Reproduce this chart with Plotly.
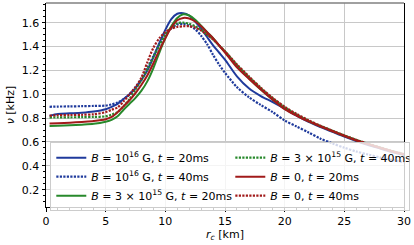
import plotly.graph_objects as go

# radius grid (km) for each curve
r_main = [0.3, 1, 2, 3, 4, 5, 5.5, 6, 6.5, 7, 7.5, 8, 8.5, 9, 9.5, 10, 10.5, 11, 11.5, 12,
          12.5, 13, 13.5, 14, 14.5, 15, 16, 17, 18, 19, 20, 21, 22, 23, 24, 25, 26, 27, 28, 29, 30]

nu_B16_t20 = [0.82, 0.835, 0.84, 0.845, 0.855, 0.875, 0.895, 0.92, 0.96, 1.0, 1.05, 1.12, 1.2, 1.31, 1.43,
              1.54, 1.63, 1.675, 1.68, 1.66, 1.61, 1.55, 1.48, 1.41, 1.35, 1.29, 1.15, 1.05, 0.985, 0.935,
              0.88, 0.82, 0.768, 0.725, 0.685, 0.645, 0.608, 0.575, 0.545, 0.515, 0.49]
nu_B16_t40 = [0.895, 0.897, 0.898, 0.9, 0.902, 0.905, 0.915, 0.93, 0.96, 1.0, 1.06, 1.13, 1.22, 1.32, 1.42,
              1.5, 1.555, 1.585, 1.59, 1.575, 1.545, 1.49, 1.42, 1.33, 1.25, 1.18, 1.06, 0.975, 0.91, 0.85,
              0.78, 0.73, 0.68, 0.628, 0.588, 0.552, 0.52, 0.495, 0.47, 0.45, 0.43]
nu_B3e15_t20 = [0.735, 0.737, 0.74, 0.745, 0.752, 0.77, 0.785, 0.815, 0.87, 0.92, 0.97, 1.03, 1.11, 1.22, 1.35,
                1.47, 1.57, 1.64, 1.67, 1.66, 1.625, 1.575, 1.52, 1.47, 1.41, 1.355, 1.235, 1.135, 1.04, 0.955,
                0.88, 0.825, 0.775, 0.732, 0.692, 0.652, 0.615, 0.582, 0.552, 0.522, 0.497]
nu_B3e15_t40 = [0.805, 0.806, 0.807, 0.808, 0.81, 0.815, 0.83, 0.85, 0.9, 0.96, 1.04, 1.12, 1.21, 1.31, 1.41,
                1.5, 1.56, 1.595, 1.6, 1.59, 1.57, 1.54, 1.5, 1.46, 1.41, 1.36, 1.245, 1.145, 1.05, 0.965,
                0.89, 0.83, 0.778, 0.734, 0.694, 0.654, 0.617, 0.584, 0.553, 0.523, 0.498]
nu_B0_t20 = [0.755, 0.758, 0.762, 0.768, 0.775, 0.79, 0.81, 0.85, 0.9, 0.95, 1.01, 1.08, 1.16, 1.26, 1.37,
             1.47, 1.56, 1.62, 1.64, 1.635, 1.61, 1.57, 1.52, 1.47, 1.41, 1.35, 1.225, 1.13, 1.04, 0.955,
             0.875, 0.82, 0.772, 0.73, 0.69, 0.65, 0.612, 0.58, 0.55, 0.52, 0.495]
nu_B0_t40 = [0.82, 0.825, 0.826, 0.828, 0.832, 0.85, 0.87, 0.89, 0.94, 1.0, 1.06, 1.14, 1.27, 1.39, 1.47,
             1.52, 1.55, 1.565, 1.57, 1.57, 1.56, 1.535, 1.5, 1.46, 1.41, 1.36, 1.25, 1.15, 1.055, 0.97,
             0.895, 0.835, 0.782, 0.736, 0.695, 0.655, 0.618, 0.585, 0.554, 0.524, 0.499]

labels = [
    "<i>B</i> = 10<sup>16</sup> G, <i>t</i> = 20ms",
    "<i>B</i> = 10<sup>16</sup> G, <i>t</i> = 40ms",
    "<i>B</i> = 3 × 10<sup>15</sup> G, <i>t</i> = 20ms",
    "<i>B</i> = 3 × 10<sup>15</sup> G, <i>t</i> = 40ms",
    "<i>B</i> = 0, <i>t</i> = 20ms",
    "<i>B</i> = 0, <i>t</i> = 40ms",
]
series = [nu_B16_t20, nu_B16_t40, nu_B3e15_t20, nu_B3e15_t40, nu_B0_t20, nu_B0_t40]
colors = ["#1f3a9c", "#1f3a9c", "#27892b", "#27892b", "#a11a1a", "#a11a1a"]
dashes = ["solid", "2.2px,1.3px", "solid", "2.2px,1.3px", "solid", "2.2px,1.3px"]
# matplotlib ncol=2 fills columns first; plotly horizontal legend fills rows
ranks = [1, 3, 5, 2, 4, 6]

fig = go.Figure()
for lab, ys, c, d, rk in zip(labels, series, colors, dashes, ranks):
    fig.add_trace(go.Scatter(
        x=r_main, y=ys, mode="lines", name=lab, legendrank=rk,
        line=dict(color=c, width=2 if d == "solid" else 2.2, dash=d, shape="spline", smoothing=0.8),
    ))

font = "DejaVu Sans"
fig.update_layout(
    width=414, height=245,
    margin=dict(l=46, r=10, t=3, b=38),
    plot_bgcolor="white", paper_bgcolor="white",
    font=dict(family=font, size=11, color="black"),
    showlegend=True,
    legend=dict(
        orientation="h", x=0.012, y=0.318, xanchor="left", yanchor="top",
        bgcolor="rgba(255,255,255,0.8)", bordercolor="#cccccc", borderwidth=1,
        entrywidth=134, entrywidthmode="pixels", font=dict(size=11, family=font),
        tracegroupgap=0, itemwidth=30,
    ),
    xaxis=dict(
        range=[0, 30], tickvals=[0, 5, 10, 15, 20, 25, 30],
        showgrid=True, gridcolor="#c8c8c8", gridwidth=1,
        showline=True, linecolor="black", linewidth=1, mirror=False,
        ticks="outside", ticklen=3.5, tickwidth=0.8, tickcolor="black",
        minor=dict(dtick=1, ticks="outside", ticklen=2, tickwidth=0.6, tickcolor="black", showgrid=False),
        zeroline=False,
        title=dict(text="<i>r</i><sub><i>c</i></sub> [km]", font=dict(size=11), standoff=2),
    ),
    yaxis=dict(
        range=[0.055, 1.765], tickvals=[0.2, 0.4, 0.6, 0.8, 1.0, 1.2, 1.4, 1.6],
        ticktext=["0.2", "0.4", "0.6", "0.8", "1.0", "1.2", "1.4", "1.6"],
        showgrid=True, gridcolor="#c8c8c8", gridwidth=1,
        showline=True, linecolor="black", linewidth=1, mirror=True,
        ticks="outside", ticklen=3.5, tickwidth=0.8, tickcolor="black",
        minor=dict(dtick=0.05, tick0=0, ticks="outside", ticklen=2, tickwidth=0.6, tickcolor="black", showgrid=False),
        zeroline=False,
        title=dict(text="<i>ν</i> [kHz]", font=dict(size=11), standoff=4),
    ),
    shapes=[dict(type="line", xref="paper", yref="paper", x0=0, x1=1, y0=1, y1=1,
                 line=dict(color="#808080", width=1.5))],
)

fig.write_html("out.html", config={"displayModeBar": False},
               post_script="document.body.style.margin='0';document.body.style.padding='0';")
